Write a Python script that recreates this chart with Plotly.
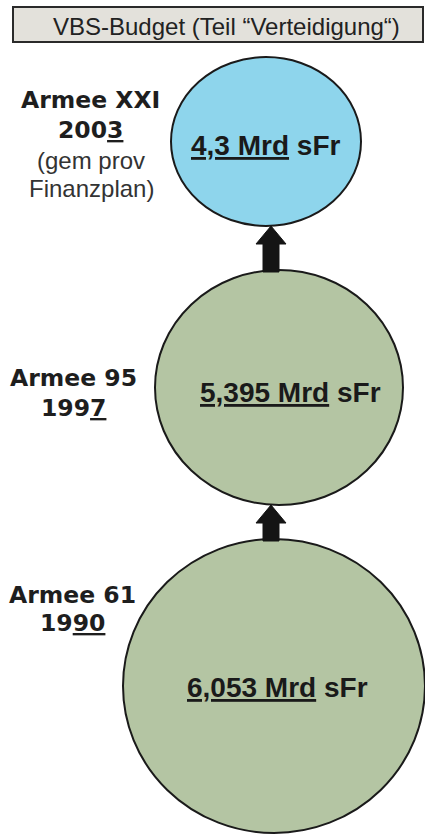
import plotly.graph_objects as go

# ---- data ----
eras = ["Armee 61", "Armee 95", "Armee XXI"]
years = ["1990", "1997", "2003"]
year_underlined_digits = [2, 1, 1]
budget_mrd_sfr = [6.053, 5.395, 4.3]
notes = [[], [], ["(gem prov", "Finanzplan)"]]
title = "VBS-Budget (Teil \u201cVerteidigung\u201c)"

# ---- layout constants (pixel space) ----
W, H = 425, 834
circle_geom = [(274, 686, 151, 147), (279, 387.5, 124, 117.5), (266, 141.5, 95, 84.5)]
circle_fill = ["#b4c5a3", "#b4c5a3", "#8ed5ec"]
value_pos = [(277, 687), (290, 392), (265, 145)]
label_x = [72, 73, 90]
label_y = [[595, 623], [378, 408], [100, 130, 160, 188]]

fig = go.Figure()
shapes = []
annotations = []

# title box
shapes.append(dict(type="rect", xref="x", yref="y", x0=13, x1=423, y0=7, y1=42,
                   fillcolor="#e3e1db", line=dict(color="#2a2a2a", width=2), layer="below"))
annotations.append(dict(x=226, y=26, xref="x", yref="y", text=title, showarrow=False,
                        xanchor="center", yanchor="middle",
                        font=dict(family="Liberation Sans, Arial", size=24, color="#222222")))

def fmt(v):
    return ("%g" % v).replace(".", ",")

for i in range(3):
    cx, cy, rx, ry = circle_geom[i]
    shapes.append(dict(type="circle", xref="x", yref="y", x0=cx - rx, x1=cx + rx,
                       y0=cy - ry, y1=cy + ry, fillcolor=circle_fill[i],
                       line=dict(color="#1a1a1a", width=2), layer="below"))
    vx, vy = value_pos[i]
    annotations.append(dict(x=vx, y=vy, xref="x", yref="y", showarrow=False,
                            text="<b><u>%s Mrd</u> sFr</b>" % fmt(budget_mrd_sfr[i]),
                            xanchor="center", yanchor="middle",
                            font=dict(family="Liberation Sans, Arial", size=28, color="#1a1a1a")))
    # era label
    ly = label_y[i]
    annotations.append(dict(x=label_x[i], y=ly[0], xref="x", yref="y", showarrow=False,
                            text="<b>%s</b>" % eras[i], xanchor="center", yanchor="middle",
                            font=dict(family="DejaVu Sans", size=23.5, color="#1e1e1e")))
    yr = years[i]
    k = year_underlined_digits[i]
    annotations.append(dict(x=label_x[i], y=ly[1], xref="x", yref="y", showarrow=False,
                            text="<b>%s<u>%s</u></b>" % (yr[:-k], yr[-k:]),
                            xanchor="center", yanchor="middle",
                            font=dict(family="DejaVu Sans", size=23.5, color="#1e1e1e")))
    for j, n in enumerate(notes[i]):
        annotations.append(dict(x=label_x[i] + 1, y=ly[2 + j], xref="x", yref="y", showarrow=False,
                                text=n, xanchor="center", yanchor="middle",
                                font=dict(family="Liberation Sans, Arial", size=24, color="#333333")))

# arrows between circles
for i in range(2):
    lcx, lcy, lrx, lry = circle_geom[i]
    ucx, ucy, urx, ury = circle_geom[i + 1]
    ax = 271
    tip = ucy + ury
    base = lcy - lry + 2
    hb = tip + 18
    path = (f"M {ax-8},{base} L {ax-8},{hb} L {ax-15},{hb} L {ax},{tip} "
            f"L {ax+15},{hb} L {ax+8},{hb} L {ax+8},{base} Z")
    shapes.append(dict(type="path", xref="x", yref="y", path=path,
                       fillcolor="#141414", line=dict(color="#141414", width=1), layer="above"))

fig.update_layout(
    width=W, height=H, margin=dict(l=0, r=0, t=0, b=0),
    paper_bgcolor="white", plot_bgcolor="white",
    xaxis=dict(range=[0, W], visible=False, fixedrange=True),
    yaxis=dict(range=[H, 0], visible=False, fixedrange=True),
    shapes=shapes, annotations=annotations, showlegend=False,
)
fig.write_html("out.html", config={"displayModeBar": False},
               post_script="document.body.style.margin='0';document.body.style.overflow='hidden';")
